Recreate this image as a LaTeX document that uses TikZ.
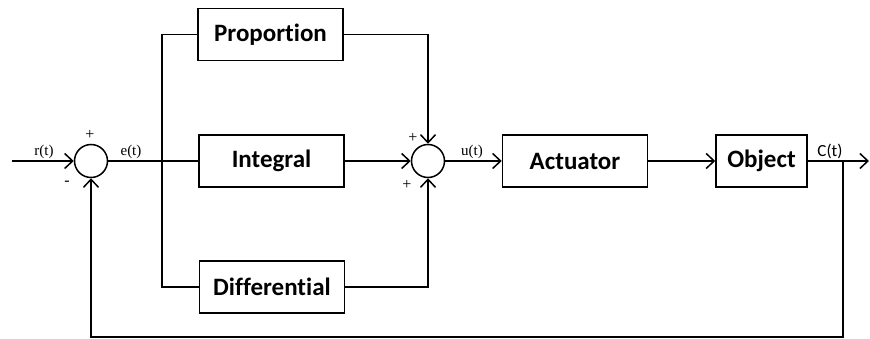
\documentclass[tikz,border=0pt]{standalone}
\usepackage{fontspec}
\setmainfont{Liberation Serif}
\newfontfamily\boxfont[Ligatures=NoCommon]{Carlito}
\usetikzlibrary{arrows.meta}
\begin{document}
\begin{tikzpicture}[x=1pt,y=-1pt,
  line width=1.5pt,
  blk/.style={draw,line width=1.5pt,minimum width=145pt,minimum height=52pt,inner sep=0pt,font=\boxfont\bfseries\fontsize{25}{28}\selectfont},
  sumnode/.style={draw,circle,line width=1.5pt,minimum size=33pt,inner sep=0pt},
  sig/.style={font=\fontsize{15}{17}\selectfont,inner sep=0pt},
  arr/.style={-{Straight Barb[length=8pt,width=15pt,line width=1.5pt]}},
  ]
\useasboundingbox (0,0) rectangle (870,339);
\node[sumnode] (s1) at (91,161) {};
\node[sumnode] (s2) at (428,161) {};
\node[blk] (prop) at (270.5,34.5) {Proportion};
\node[blk] (int) at (271.5,161) {Integral};
\node[blk] (diff) at (272,287) {Differential};
\node[blk] (act) at (575,161) {Actuator};
\node[blk,minimum width=91pt] (obj) at (761.5,161) {Object};
\coordinate (in) at (12,161);
\coordinate (bt) at (162,34.5);
\coordinate (bb) at (162,287);
\coordinate (co) at (843,161);
\coordinate (out) at (869,161);
\coordinate (fb) at (843,337);
% signal lines
\draw[arr] (in) -- (s1.west);
\draw (s1.east) -- (int.west);
\draw (prop.west) -- (bt) -- (bb) -- (diff.west);
\draw[arr] (prop.east) -| (s2.north);
\draw[arr] (int.east) -- (s2.west);
\draw[arr] (diff.east) -| (s2.south);
\draw[arr] (s2.east) -- (act.west);
\draw[arr] (act.east) -- (obj.west);
\draw[arr] (obj.east) -- (out);
\draw[arr] (co) -- (fb) -| (s1.south);
% labels
\node[sig] (lr) at (44,152) {r(t)};
\node[sig] (le) at (131,152) {e(t)};
\node[sig] (lu) at (472,152) {u(t)};
\node[sig,font=\boxfont\fontsize{17}{19}\selectfont] (lc) at (830,151) {C(t)};
\node[sig,font=\fontsize{16}{17}\selectfont] (p1) at (90,135) {+};
\node[sig,font=\fontsize{16}{17}\selectfont] (m1) at (67,183) {-};
\node[sig,font=\fontsize{16}{17}\selectfont] (p2) at (413,138) {+};
\node[sig,font=\fontsize{16}{17}\selectfont] (p3) at (407,185) {+};
\end{tikzpicture}
\end{document}
